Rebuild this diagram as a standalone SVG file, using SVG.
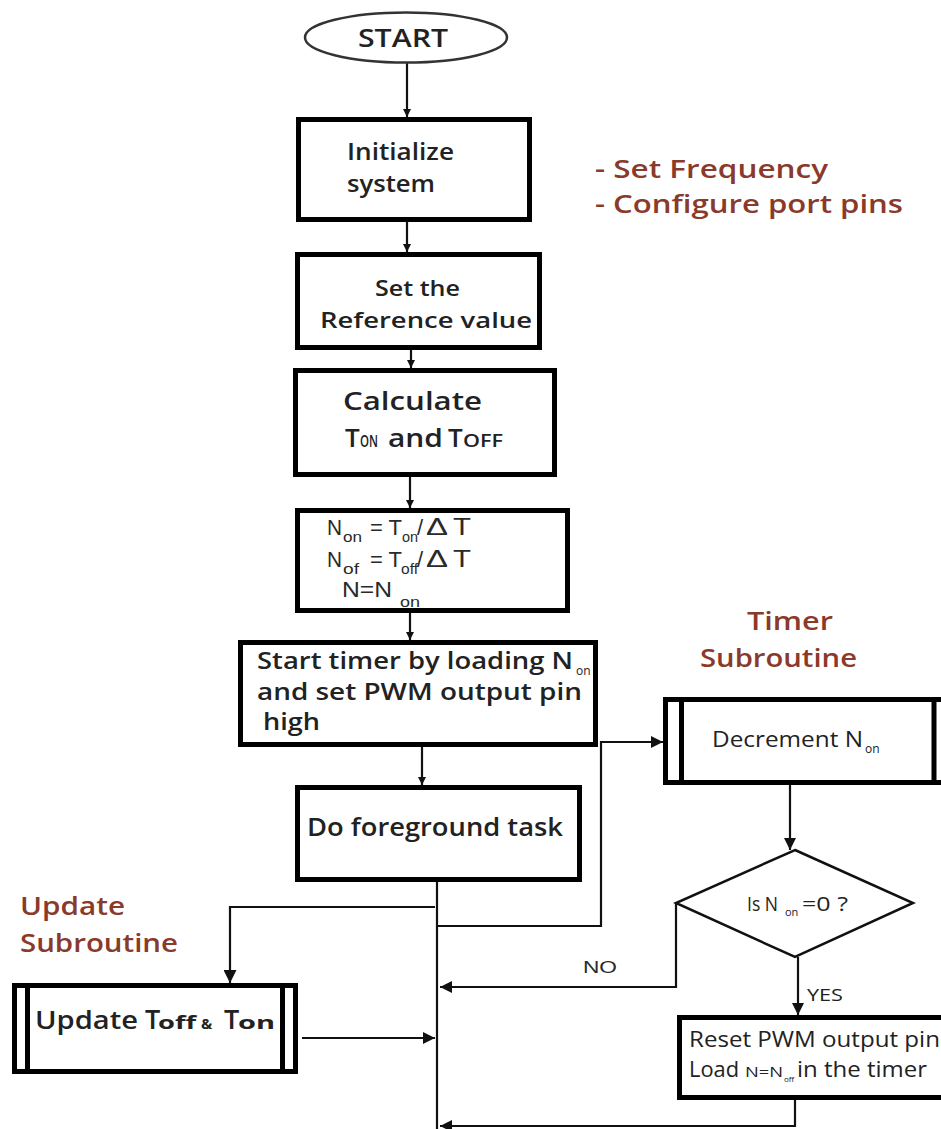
<svg xmlns="http://www.w3.org/2000/svg" width="941" height="1129" viewBox="0 0 941 1129">
<style>
.t{font-family:"Open Sans","Liberation Sans",sans-serif;fill:#222}
.f{font-family:"Liberation Sans",Arial,sans-serif;fill:#2a2a2a}
.b{font-weight:600}
.br{font-weight:600;fill:#8a3a2b}
.box{fill:#fff;stroke:#000;stroke-width:5}
.bar{stroke:#000;stroke-width:5}
.c{fill:none;stroke:#111;stroke-width:2.2}
</style>
<defs>
<marker id="s" viewBox="0 0 10 10" refX="10" refY="5" markerWidth="8" markerHeight="8" markerUnits="userSpaceOnUse" orient="auto"><path d="M0,0L10,5L0,10z" fill="#111"/></marker>
<marker id="m" viewBox="0 0 10 10" refX="10" refY="5" markerWidth="20" markerHeight="12" markerUnits="userSpaceOnUse" orient="auto"><path d="M0,0L10,5L0,10z" fill="#111"/></marker>
<marker id="l" viewBox="0 0 10 10" refX="10" refY="5" markerWidth="30" markerHeight="13" markerUnits="userSpaceOnUse" orient="auto"><path d="M0,0L10,5L0,10z" fill="#111"/></marker>
</defs>
<rect width="941" height="1129" fill="#fff"/>

<g id="connectors">
<path class="c" d="M407,63V117" marker-end="url(#s)"/>
<path class="c" d="M407,222V252" marker-end="url(#s)"/>
<path class="c" d="M411,350V368" marker-end="url(#s)"/>
<path class="c" d="M410,477V508" marker-end="url(#s)"/>
<path class="c" d="M410,613V640" marker-end="url(#s)"/>
<path class="c" d="M422,747V785" marker-end="url(#s)"/>
<path class="c" d="M437,882V1129"/>
<path class="c" d="M435,907H230V983" marker-end="url(#l)"/>
<path class="c" d="M437,926H601V742H663" marker-end="url(#m)"/>
<path class="c" d="M790,785V850" marker-end="url(#m)"/>
<path class="c" d="M676,903V987H440" marker-end="url(#m)"/>
<path class="c" d="M798,957V1015" marker-end="url(#m)"/>
<path class="c" d="M302,1038H435" marker-end="url(#m)"/>
<path class="c" d="M795,1100V1126H440" marker-end="url(#m)"/>
<text class="f" x="583" y="973" font-size="17" textLength="34" lengthAdjust="spacingAndGlyphs">NO</text>
<text class="t" x="807" y="1001" font-size="17" textLength="36" lengthAdjust="spacingAndGlyphs">YES</text>
</g>

<g id="start">
<ellipse cx="406" cy="37.5" rx="101" ry="25" fill="#fff" stroke="#333" stroke-width="2.5"/>
<text class="t b" x="358" y="47" font-size="26" textLength="90" lengthAdjust="spacingAndGlyphs">START</text>
</g>

<g id="init">
<rect class="box" x="298.5" y="119.5" width="231" height="100"/>
<text class="t b" x="347" y="160" font-size="23" textLength="107" lengthAdjust="spacingAndGlyphs">Initialize</text>
<text class="t b" x="347" y="192" font-size="23" textLength="88" lengthAdjust="spacingAndGlyphs">system</text>
</g>

<g id="notes">
<text class="t br" x="595" y="178" font-size="25" textLength="233" lengthAdjust="spacingAndGlyphs">- Set Frequency</text>
<text class="t br" x="595" y="213" font-size="25" textLength="308" lengthAdjust="spacingAndGlyphs">- Configure port pins</text>
</g>

<g id="setref">
<rect class="box" x="297.5" y="254.5" width="242" height="93"/>
<text class="t b" x="375" y="296" font-size="22" textLength="85" lengthAdjust="spacingAndGlyphs">Set the</text>
<text class="t b" x="320" y="328" font-size="22" textLength="212" lengthAdjust="spacingAndGlyphs">Reference value</text>
</g>

<g id="calc">
<rect class="box" x="295.5" y="370.5" width="259" height="104"/>
<text class="t b" x="343" y="410" font-size="26" fill="#333" textLength="139" lengthAdjust="spacingAndGlyphs">Calculate</text>
<text class="t b" x="345" y="447" font-size="26" fill="#333">T</text>
<text class="t b" x="360" y="447" font-size="17" fill="#333" textLength="18" lengthAdjust="spacingAndGlyphs">ON</text>
<text class="t b" x="388" y="447" font-size="26" fill="#333" textLength="55" lengthAdjust="spacingAndGlyphs">and</text>
<text class="t b" x="448" y="447" font-size="26" fill="#333">T</text>
<text class="t b" x="463" y="447" font-size="18" fill="#333" textLength="40" lengthAdjust="spacingAndGlyphs">OFF</text>
</g>

<g id="formula">
<rect class="box" x="297.5" y="510.5" width="270" height="100"/>
<text class="f" x="327" y="535" font-size="22" textLength="15" lengthAdjust="spacingAndGlyphs">N</text>
<text class="f" x="343" y="542" font-size="15" textLength="19" lengthAdjust="spacingAndGlyphs">on</text>
<text class="f" x="370" y="535" font-size="22" textLength="32" lengthAdjust="spacingAndGlyphs">= T</text>
<text class="f" x="402" y="542" font-size="15" textLength="16" lengthAdjust="spacingAndGlyphs">on</text>
<text class="f" x="417" y="535" font-size="22">/</text>
<text class="f" x="426" y="535" font-size="23" textLength="22" lengthAdjust="spacingAndGlyphs">Δ</text>
<text class="f" x="453" y="535" font-size="23" textLength="18" lengthAdjust="spacingAndGlyphs">T</text>
<text class="f" x="327" y="567" font-size="22" textLength="15" lengthAdjust="spacingAndGlyphs">N</text>
<text class="f" x="343" y="574" font-size="15" textLength="16" lengthAdjust="spacingAndGlyphs">of</text>
<text class="f" x="370" y="567" font-size="22" textLength="32" lengthAdjust="spacingAndGlyphs">= T</text>
<text class="f" x="401" y="574" font-size="15" textLength="17" lengthAdjust="spacingAndGlyphs">off</text>
<text class="f" x="417" y="567" font-size="22">/</text>
<text class="f" x="426" y="567" font-size="23" textLength="22" lengthAdjust="spacingAndGlyphs">Δ</text>
<text class="f" x="453" y="567" font-size="23" textLength="18" lengthAdjust="spacingAndGlyphs">T</text>
<text class="f" x="342" y="597" font-size="22" textLength="50" lengthAdjust="spacingAndGlyphs">N=N</text>
<text class="f" x="400" y="607" font-size="15" textLength="20" lengthAdjust="spacingAndGlyphs">on</text>
</g>

<g id="starttimer">
<rect class="box" x="240.5" y="642.5" width="355" height="102"/>
<text class="t b" x="257" y="669" font-size="24" fill="#333" textLength="316" lengthAdjust="spacingAndGlyphs">Start timer by loading N</text>
<text class="t" x="576" y="675" font-size="12">on</text>
<text class="t b" x="257" y="700" font-size="24" fill="#333" textLength="325" lengthAdjust="spacingAndGlyphs">and set PWM output pin</text>
<text class="t b" x="263" y="730" font-size="24" fill="#333" textLength="57" lengthAdjust="spacingAndGlyphs">high</text>
</g>

<g id="foreground">
<rect class="box" x="297.5" y="787.5" width="282" height="92"/>
<text class="t b" x="307" y="836" font-size="25" fill="#333" textLength="256" lengthAdjust="spacingAndGlyphs">Do foreground task</text>
</g>

<g id="timerlabel">
<text class="t br" x="747" y="630" font-size="25" textLength="86" lengthAdjust="spacingAndGlyphs">Timer</text>
<text class="t br" x="700" y="667" font-size="25" textLength="157" lengthAdjust="spacingAndGlyphs">Subroutine</text>
</g>

<g id="decrement">
<rect class="box" x="665.5" y="699.5" width="280" height="83"/>
<line class="bar" x1="681.5" y1="700" x2="681.5" y2="782"/>
<line class="bar" x1="934" y1="700" x2="934" y2="782"/>
<text class="t" x="712" y="747" font-size="22" textLength="151" lengthAdjust="spacingAndGlyphs">Decrement N</text>
<text class="t" x="865" y="753" font-size="12">on</text>
</g>

<g id="decision">
<polygon points="795,850 913,903 795,957 676,903" fill="#fff" stroke="#111" stroke-width="2.5"/>
<text class="t" x="747" y="911" font-size="20" textLength="31" lengthAdjust="spacingAndGlyphs">Is N</text>
<text class="t" x="785" y="916" font-size="11">on</text>
<text class="t" x="802" y="911" font-size="20" textLength="46" lengthAdjust="spacingAndGlyphs">=0 ?</text>
</g>

<g id="reset">
<rect class="box" x="679.5" y="1017.5" width="270" height="80"/>
<text class="t" x="689" y="1047" font-size="21" textLength="251" lengthAdjust="spacingAndGlyphs">Reset PWM output pin</text>
<text class="t" x="689" y="1077" font-size="21" textLength="50" lengthAdjust="spacingAndGlyphs">Load</text>
<text class="t" x="745" y="1077" font-size="14" textLength="38" lengthAdjust="spacingAndGlyphs">N=N</text>
<text class="t" x="784" y="1082" font-size="8">off</text>
<text class="t" x="797" y="1077" font-size="21" textLength="130" lengthAdjust="spacingAndGlyphs">in the timer</text>
</g>

<g id="updatelabel">
<text class="t br" x="20" y="915" font-size="25" textLength="105" lengthAdjust="spacingAndGlyphs">Update</text>
<text class="t br" x="20" y="952" font-size="25" textLength="158" lengthAdjust="spacingAndGlyphs">Subroutine</text>
</g>

<g id="update">
<rect class="box" x="14.5" y="985.5" width="281" height="86"/>
<line class="bar" x1="27.5" y1="986" x2="27.5" y2="1071"/>
<line class="bar" x1="282.5" y1="986" x2="282.5" y2="1071"/>
<text class="t b" x="35" y="1029" font-size="26" textLength="103" lengthAdjust="spacingAndGlyphs">Update</text>
<text class="t b" x="145" y="1029" font-size="27">T</text>
<text class="t" x="158" y="1029" font-size="17" font-weight="700" textLength="38" lengthAdjust="spacingAndGlyphs">off</text>
<text class="t" x="201" y="1029" font-size="15" font-weight="700">&amp;</text>
<text class="t b" x="224" y="1029" font-size="27">T</text>
<text class="t" x="238" y="1029" font-size="18" font-weight="700" textLength="37" lengthAdjust="spacingAndGlyphs">on</text>
</g>
</svg>
